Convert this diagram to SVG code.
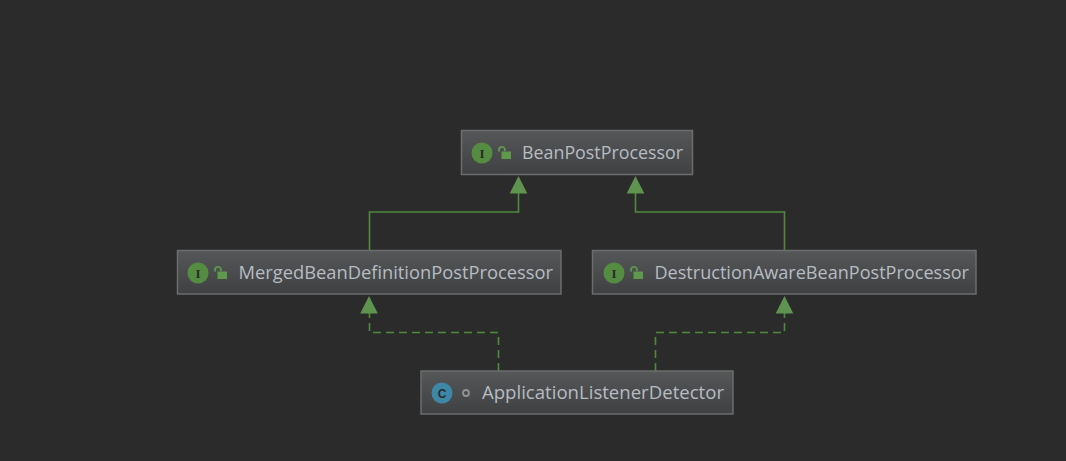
<svg xmlns="http://www.w3.org/2000/svg" width="1066" height="461" viewBox="0 0 1066 461">
<style>
.box{fill:url(#g);stroke:#6b6d6e;stroke-width:1.5}
.t{font-family:"Open Sans","Noto Sans",sans-serif;font-size:19px;fill:#b6bcc2}
.edge{fill:none;stroke:#4f8a3c;stroke-width:1.6}
.dash{stroke-dasharray:8 5}
.head{fill:#5f9450}
.ic{fill:#548c42}
.ii{font-family:"Liberation Serif",serif;font-size:13px;font-weight:bold;fill:#2b2b2b;text-anchor:middle}
.lock{fill:none;stroke:#5f9a4c;stroke-width:1.800}
</style>
<defs>
<linearGradient id="g" x1="0" y1="0" x2="0" y2="1"><stop offset="0" stop-color="#565758"/><stop offset="1" stop-color="#3f4041"/></linearGradient>
<g id="lockI"><path class="lock" d="M-6 -2.500V-4a3 3 0 0 1 5.800-1.200L0 -3"/><rect x="-3.500" y="-2.500" width="9.500" height="7.500" fill="#5f9a4c"/></g>
</defs>
<rect width="1066" height="461" fill="#2b2b2b"/>
<g id="connectors">
<path class="edge" d="M369.500 251V212H518.500V192"/>
<path class="edge" d="M784.500 251V212H635.500V192"/>
<path class="edge dash" d="M498.500 371V332.500H369.500V312"/>
<path class="edge dash" d="M655.500 371V332.500H784.500V312"/>
<path class="head" d="M518.500 176L527.300 193.500H509.700Z"/>
<path class="head" d="M635.500 176L644.300 193.500H626.700Z"/>
<path class="head" d="M369 296L377.800 313.500H360.200Z"/>
<path class="head" d="M784.500 296L793.300 313.500H775.700Z"/>
</g>
<g id="node-BeanPostProcessor">
<rect class="box" x="461.500" y="130.500" width="231" height="44"/>
<circle class="ic" cx="482" cy="153" r="10.500"/><text class="ii" x="482" y="157.500">I</text>
<use href="#lockI" x="505" y="154"/>
<text class="t" x="522" y="159" textLength="161" lengthAdjust="spacingAndGlyphs">BeanPostProcessor</text>
</g>
<g id="node-MergedBeanDefinitionPostProcessor">
<rect class="box" x="177.500" y="250.500" width="383.500" height="43.500"/>
<circle class="ic" cx="198" cy="273" r="10.500"/><text class="ii" x="198" y="277.500">I</text>
<use href="#lockI" x="221" y="274"/>
<text class="t" x="238.500" y="279" textLength="314.500" lengthAdjust="spacingAndGlyphs">MergedBeanDefinitionPostProcessor</text>
</g>
<g id="node-DestructionAwareBeanPostProcessor">
<rect class="box" x="592.500" y="250.500" width="383.500" height="43.500"/>
<circle class="ic" cx="614" cy="273" r="10.500"/><text class="ii" x="614" y="277.500">I</text>
<use href="#lockI" x="637" y="274"/>
<text class="t" x="654.500" y="279" textLength="314.500" lengthAdjust="spacingAndGlyphs">DestructionAwareBeanPostProcessor</text>
</g>
<g id="node-ApplicationListenerDetector">
<rect class="box" x="421" y="371" width="312" height="43"/>
<circle cx="442" cy="393" r="10.500" fill="#3f87a6"/>
<text x="442" y="397.500" font-family="Liberation Sans,sans-serif" font-size="12" font-weight="bold" fill="#2b2b2b" text-anchor="middle">C</text>
<circle cx="466" cy="393" r="3" fill="none" stroke="#8f9497" stroke-width="1.800"/>
<text class="t" x="482" y="399" textLength="242" lengthAdjust="spacingAndGlyphs">ApplicationListenerDetector</text>
</g>
</svg>
